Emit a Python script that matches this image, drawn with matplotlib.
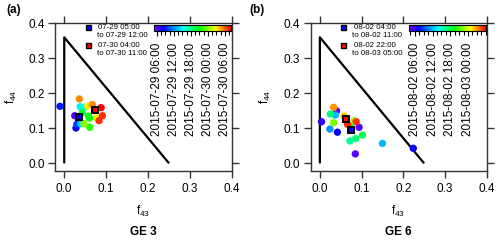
#!/usr/bin/env python3
"""f44 vs f43 triangle plots for GE 3 and GE 6, coloured by time."""

import matplotlib

matplotlib.use("Agg")
import matplotlib.pyplot as plt
import pandas as pd
from matplotlib.cm import ScalarMappable
from matplotlib.colors import LinearSegmentedColormap, Normalize
from matplotlib.ticker import FixedLocator

plt.rcParams["font.family"] = ["Liberation Sans", "DejaVu Sans"]
plt.rcParams["mathtext.fontset"] = "custom"
plt.rcParams["mathtext.rm"] = "Liberation Sans"
plt.rcParams["mathtext.it"] = "Liberation Sans:italic"

# triangle (Ng et al.)
tri_f43 = [0.0, 0.0, 0.25]
tri_f44 = [0.0, 0.36, 0.0]

# --- GE 3 ---
ge3_f43 = [-0.010, 0.025, 0.028, 0.030, 0.040, 0.038, 0.046, 0.043, 0.058, 0.060,
           0.061, 0.047, 0.056, 0.067, 0.036, 0.077, 0.083, 0.091, 0.088]
ge3_f44 = [0.163, 0.136, 0.101, 0.112, 0.113, 0.162, 0.160, 0.145, 0.135, 0.129,
           0.103, 0.113, 0.164, 0.168, 0.184, 0.130, 0.122, 0.136, 0.159]
ge3_hours = [4, 1, 3, 5, 9, 10, 11, 15, 16, 16, 17, 19, 22, 24, 24, 21, 26, 26, 27]
ge3_mean_f43 = [0.036, 0.073]
ge3_mean_f44 = [0.132, 0.151]
ge3_periods = [["07-29 05:00", "to 07-29 12:00"], ["07-30 04:00", "to 07-30 11:00"]]
ge3_start = "2015-07-29 05:00"
ge3_end = "2015-07-30 08:00"
ge3_ticks = ["2015-07-29 06:00", "2015-07-29 12:00", "2015-07-29 18:00",
             "2015-07-30 00:00", "2015-07-30 06:00"]

# --- GE 6 ---
ge6_f43 = [0.004, 0.040, 0.042, 0.085, 0.094, 0.224, 0.024, 0.037, 0.150, 0.025,
           0.072, 0.086, 0.102, 0.074, 0.033, 0.082, 0.058, 0.033, 0.066, 0.087]
ge6_f44 = [0.119, 0.150, 0.089, 0.027, 0.103, 0.043, 0.098, 0.138, 0.057, 0.141,
           0.064, 0.071, 0.081, 0.105, 0.116, 0.122, 0.135, 0.160, 0.112, 0.119]
ge6_hours = [2, 0.5, 3, 1, 1, 3, 7, 8, 8, 13, 12, 13, 14, 15, 18, 19, 22, 23, 25, 25]
ge6_mean_f43 = [0.074, 0.062]
ge6_mean_f44 = [0.095, 0.126]
ge6_periods = [["08-02 04:00", "to 08-02 11:00"], ["08-02 22:00", "to 08-03 05:00"]]
ge6_start = "2015-08-02 04:00"
ge6_end = "2015-08-03 06:00"
ge6_ticks = ["2015-08-02 06:00", "2015-08-02 12:00", "2015-08-02 18:00",
             "2015-08-03 00:00"]

cmap = LinearSegmentedColormap.from_list(
    "igor_rainbow",
    [(0.0, "#7a00ff"), (0.12, "#0000ff"), (0.38, "#00ffff"), (0.6, "#00ff00"),
     (0.8, "#ffff00"), (0.9, "#ff8000"), (1.0, "#ff0000")],
)
SPINE = "#333333"


def hours_since(start, stamps):
    t0 = pd.Timestamp(start)
    return [(pd.Timestamp(s) - t0).total_seconds() / 3600.0 for s in stamps]


def draw_panel(fig, rect, cbar_rect, f43, f44, hours, mean_f43, mean_f44,
               periods, start, end, ticks):
    ax = fig.add_axes(rect)
    span = hours_since(start, [end])[0]
    norm = Normalize(0, span)

    ax.plot(tri_f43, tri_f44, color="black", lw=1.6, solid_capstyle="butt")
    order = sorted(range(len(hours)), key=lambda i: hours[i])
    ax.scatter([f43[i] for i in order], [f44[i] for i in order],
               c=[hours[i] for i in order], cmap=cmap, norm=norm,
               s=28, linewidths=0, zorder=3)
    ax.plot(mean_f43[0], mean_f44[0], "s", ms=4.4, mfc="#0000ff", mec="black",
            mew=1.4, zorder=4)
    ax.plot(mean_f43[1], mean_f44[1], "s", ms=4.4, mfc="#ff0000", mec="black",
            mew=1.4, zorder=4)

    ax.set_xlim(-0.022, 0.4)
    ax.set_ylim(-0.021, 0.4)
    ax.set_xticks([0.0, 0.1, 0.2, 0.3, 0.4])
    ax.set_yticks([0.0, 0.1, 0.2, 0.3, 0.4])
    ax.xaxis.set_major_formatter("{x:.1f}")
    ax.yaxis.set_major_formatter("{x:.1f}")
    ax.tick_params(direction="out", top=True, right=True, length=5, width=1,
                   color=SPINE, labelsize=8.5)
    ax.tick_params(axis="x", pad=4)
    ax.tick_params(axis="y", pad=2.5)
    for sp in ax.spines.values():
        sp.set_color(SPINE)
        sp.set_linewidth(1.0)

    # legend for the two averaged periods
    for k, (first, second) in enumerate(periods):
        y0 = 0.972 - k * 0.121
        fc = "#0000ff" if k == 0 else "#ff0000"
        ax.plot(0.184, y0, "s", ms=3.6, mfc=fc, mec="black", mew=1.0,
                transform=ax.transAxes, clip_on=False)
        ax.text(0.245, y0, first, transform=ax.transAxes, fontsize=5.7,
                va="center", ha="left")
        ax.text(0.236, y0 - 0.058, second, transform=ax.transAxes, fontsize=5.7,
                va="center", ha="left")

    cax = fig.add_axes(cbar_rect)
    cb = fig.colorbar(ScalarMappable(norm=norm, cmap=cmap), cax=cax,
                      orientation="horizontal", ticklocation="bottom")
    tick_pos = hours_since(start, ticks)
    cb.set_ticks(tick_pos)
    cb.set_ticklabels(ticks, rotation=90, fontsize=8.5)
    minor = []
    h = tick_pos[0]
    while h - 1.5 >= 0:
        h -= 1.5
    while h <= span:
        minor.append(h)
        h += 1.5
    cax.xaxis.set_minor_locator(FixedLocator(minor))
    cax.tick_params(which="major", length=3.6, width=0.8, pad=5)
    cax.tick_params(which="minor", length=3.0, width=0.8)
    cb.outline.set_linewidth(0.8)
    return ax


fig = plt.figure(figsize=(5, 2.43), dpi=100)

draw_panel(fig, [0.110, 0.2975, 0.354, 0.6066], [0.308, 0.8724, 0.1534, 0.0247],
           ge3_f43, ge3_f44, ge3_hours, ge3_mean_f43, ge3_mean_f44,
           ge3_periods, ge3_start, ge3_end, ge3_ticks)
draw_panel(fig, [0.6214, 0.2975, 0.352, 0.6066], [0.818, 0.8724, 0.1534, 0.0247],
           ge6_f43, ge6_f44, ge6_hours, ge6_mean_f43, ge6_mean_f44,
           ge6_periods, ge6_start, ge6_end, ge6_ticks)

for x, xl_x, yl_x, tag, name in [(0.027, 0.287, 0.0234, "(a)", "GE 3"),
                                 (0.513, 0.797, 0.530, "(b)", "GE 6")]:
    fig.text(x, 0.957, tag, fontsize=8.5, fontweight="bold", ha="center", va="center")
    fig.text(xl_x, 0.129, r"f$_{43}$", fontsize=8.5, ha="center", va="center")
    fig.text(xl_x, 0.0465, name, fontsize=8.5, fontweight="bold", ha="center", va="center")
    fig.text(yl_x, 0.601, r"f$_{44}$", fontsize=8.5, rotation=90, ha="center", va="center")

fig.savefig("out.png", dpi=100)
